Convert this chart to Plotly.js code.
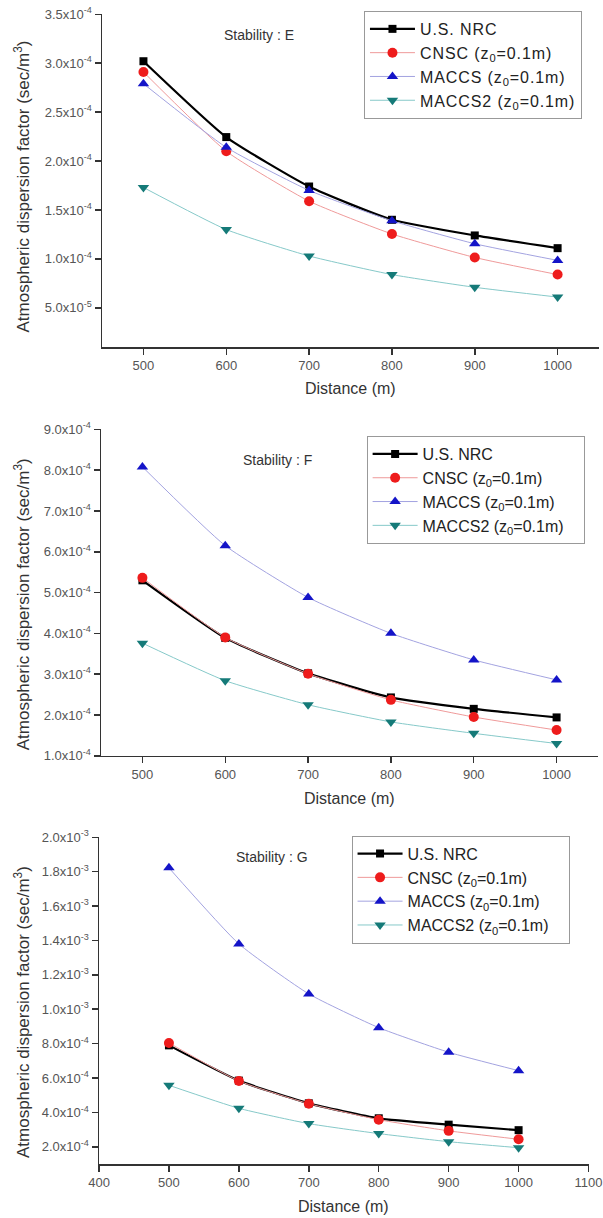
<!DOCTYPE html>
<html>
<head>
<meta charset="utf-8">
<script src="https://cdn.plot.ly/plotly-3.0.1.min.js"></script>
<style>
  html, body { margin: 0; padding: 0; background: #fff; }
  #chart { width: 603px; height: 1218px; }
  /* open tracking on legend entries (also applies to the measuring copy) */
  .legendtext { letter-spacing: 0.9px; }
</style>
</head>
<body>
<div id="chart"></div>
<script>
// Downwind distance (m)
const distance = [500, 600, 700, 800, 900, 1000];

// Series labels
const seriesNames = ['U.S. NRC', 'CNSC (z<sub>0</sub>=0.1m)', 'MACCS (z<sub>0</sub>=0.1m)', 'MACCS2 (z<sub>0</sub>=0.1m)'];

// Stability class E (sec/m^3)
const nrcE    = [3.02e-4, 2.245e-4, 1.74e-4, 1.40e-4, 1.24e-4, 1.11e-4];
const cnscE   = [2.91e-4, 2.10e-4, 1.59e-4, 1.255e-4, 1.015e-4, 0.84e-4];
const maccsE  = [2.79e-4, 2.14e-4, 1.70e-4, 1.39e-4, 1.155e-4, 0.985e-4];
const maccs2E = [1.73e-4, 1.30e-4, 1.03e-4, 0.84e-4, 0.71e-4, 0.61e-4];

// Stability class F (sec/m^3)
const nrcF    = [5.30e-4, 3.89e-4, 3.02e-4, 2.43e-4, 2.15e-4, 1.94e-4];
const cnscF   = [5.36e-4, 3.90e-4, 3.01e-4, 2.37e-4, 1.95e-4, 1.63e-4];
const maccsF  = [8.08e-4, 6.15e-4, 4.88e-4, 4.00e-4, 3.35e-4, 2.86e-4];
const maccs2F = [3.76e-4, 2.84e-4, 2.25e-4, 1.83e-4, 1.55e-4, 1.30e-4];

// Stability class G (sec/m^3)
const nrcG    = [7.90e-4, 5.85e-4, 4.53e-4, 3.66e-4, 3.29e-4, 2.97e-4];
const cnscG   = [8.04e-4, 5.83e-4, 4.51e-4, 3.58e-4, 2.93e-4, 2.44e-4];
const maccsG  = [1.822e-3, 1.38e-3, 1.089e-3, 0.893e-3, 0.75e-3, 0.643e-3];
const maccs2G = [5.58e-4, 4.24e-4, 3.35e-4, 2.77e-4, 2.30e-4, 1.95e-4];

// Axis ticks
const xTicksEF = [500, 600, 700, 800, 900, 1000];
const xTicksG  = [400, 500, 600, 700, 800, 900, 1000, 1100];

const yTickValsE = [5e-5, 1e-4, 1.5e-4, 2e-4, 2.5e-4, 3e-4, 3.5e-4];
const yTickTextE = ['5.0x10<sup>-5</sup>', '1.0x10<sup>-4</sup>', '1.5x10<sup>-4</sup>', '2.0x10<sup>-4</sup>',
                    '2.5x10<sup>-4</sup>', '3.0x10<sup>-4</sup>', '3.5x10<sup>-4</sup>'];
const yTickValsF = [1e-4, 2e-4, 3e-4, 4e-4, 5e-4, 6e-4, 7e-4, 8e-4, 9e-4];
const yTickTextF = ['1.0x10<sup>-4</sup>', '2.0x10<sup>-4</sup>', '3.0x10<sup>-4</sup>', '4.0x10<sup>-4</sup>',
                    '5.0x10<sup>-4</sup>', '6.0x10<sup>-4</sup>', '7.0x10<sup>-4</sup>', '8.0x10<sup>-4</sup>',
                    '9.0x10<sup>-4</sup>'];
const yTickValsG = [2e-4, 4e-4, 6e-4, 8e-4, 1.0e-3, 1.2e-3, 1.4e-3, 1.6e-3, 1.8e-3, 2.0e-3];
const yTickTextG = ['2.0x10<sup>-4</sup>', '4.0x10<sup>-4</sup>', '6.0x10<sup>-4</sup>', '8.0x10<sup>-4</sup>',
                    '1.0x10<sup>-3</sup>', '1.2x10<sup>-3</sup>', '1.4x10<sup>-3</sup>', '1.6x10<sup>-3</sup>',
                    '1.8x10<sup>-3</sup>', '2.0x10<sup>-3</sup>'];

const FONT = 'Liberation Sans, Arial, sans-serif';

// Line / marker styling per series
const styles = [
  { line: { color: '#000000', width: 2.2 }, marker: { symbol: 'square', size: 8, color: '#000000' } },
  { line: { color: '#ef9a9a', width: 1 },   marker: { symbol: 'circle', size: 10, color: '#ee1c1c' } },
  { line: { color: '#a3a3e0', width: 1 },   marker: { symbol: 'triangle-up', size: 10, color: '#1414c8' } },
  { line: { color: '#86c9c9', width: 1 },   marker: { symbol: 'triangle-down', size: 10, color: '#157a78' } }
];

function panelTraces(seriesList, xa, ya, legendId) {
  return seriesList.map((vals, i) => ({
    type: 'scatter',
    mode: 'lines+markers',
    x: distance,
    y: vals,
    name: seriesNames[i],
    xaxis: xa,
    yaxis: ya,
    legend: legendId,
    line: Object.assign({ shape: 'spline', smoothing: 0.5 }, styles[i].line),
    marker: styles[i].marker,
    cliponaxis: false
  }));
}

const data = [].concat(
  panelTraces([nrcE, cnscE, maccsE, maccs2E], 'x', 'y', 'legend'),
  panelTraces([nrcF, cnscF, maccsF, maccs2F], 'x2', 'y2', 'legend2'),
  panelTraces([nrcG, cnscG, maccsG, maccs2G], 'x3', 'y3', 'legend3')
);

function axisBase(domain, range, anchor) {
  return {
    domain: domain, range: range, anchor: anchor,
    ticks: 'outside', ticklen: 6, tickwidth: 1.5, tickcolor: '#333',
    showline: true, linecolor: '#333', linewidth: 1.5,
    showgrid: false, zeroline: false, mirror: false,
    tickfont: { family: FONT, size: 13, color: '#555' }
  };
}
function xAxis(domain, range, ticks, anchor) {
  return Object.assign(axisBase(domain, range, anchor), { tickvals: ticks, ticktext: ticks.map(String) });
}
function yAxis(domain, range, vals, text, anchor) {
  return Object.assign(axisBase(domain, range, anchor), { tickvals: vals, ticktext: text });
}
function legendBox(x, y) {
  return {
    x: x, y: y, xref: 'paper', yref: 'paper', xanchor: 'left', yanchor: 'top',
    bgcolor: '#ffffff', bordercolor: '#999999', borderwidth: 1,
    font: { family: FONT, size: 16, color: '#222' },
    itemwidth: 45,
    tracegroupgap: 0
  };
}

const yTitleFont = { family: FONT, size: 17, color: '#333' };
const xTitleFont = { family: FONT, size: 16, color: '#333' };
const noteFont = { family: FONT, size: 14, color: '#333' };

function label(text, x, y, font, angle) {
  return { text: text, x: x, y: y, xref: 'paper', yref: 'paper', showarrow: false,
           xanchor: 'center', yanchor: 'middle', font: font, textangle: angle || 0 };
}

const yTitle = 'Atmospheric dispersion factor (sec/m<sup>3</sup>)';

const layout = {
  width: 603, height: 1218,
  margin: { l: 0, r: 0, t: 0, b: 0 },
  paper_bgcolor: '#ffffff', plot_bgcolor: '#ffffff',
  showlegend: true,
  xaxis:  xAxis([0.1692, 0.9934], [450, 1050], xTicksEF, 'y'),
  yaxis:  yAxis([0.7151, 0.9883], [1e-5, 3.5e-4], yTickValsE, yTickTextE, 'x'),
  xaxis2: xAxis([0.1675, 0.9917], [450, 1050], xTicksEF, 'y2'),
  yaxis2: yAxis([0.3795, 0.6475], [1e-4, 9e-4], yTickValsF, yTickTextF, 'x2'),
  xaxis3: xAxis([0.1642, 0.9760], [400, 1100], xTicksG, 'y3'),
  yaxis3: yAxis([0.0443, 0.3126], [1e-4, 2e-3], yTickValsG, yTickTextG, 'x3'),
  legend:  legendBox(0.6036, 0.991),
  legend2: legendBox(0.608, 0.642),
  legend3: legendBox(0.583, 0.3139),
  annotations: [
    label('Stability : E', 0.4295, 0.9713, noteFont),
    label('Stability : F', 0.461, 0.6223, noteFont),
    label('Stability : G', 0.451, 0.2966, noteFont),
    label(yTitle, 0.0357, 0.8465, yTitleFont, -90),
    label(yTitle, 0.0357, 0.5035, yTitleFont, -90),
    label(yTitle, 0.0357, 0.1687, yTitleFont, -90),
    label('Distance (m)', 0.5813, 1 - 388 / 1218, xTitleFont),
    label('Distance (m)', 0.5796, 1 - 798 / 1218, xTitleFont),
    label('Distance (m)', 0.5701, 1 - 1206 / 1218, xTitleFont)
  ]
};

Plotly.newPlot('chart', data, layout, { displayModeBar: false, staticPlot: true });
</script>
</body>
</html>
